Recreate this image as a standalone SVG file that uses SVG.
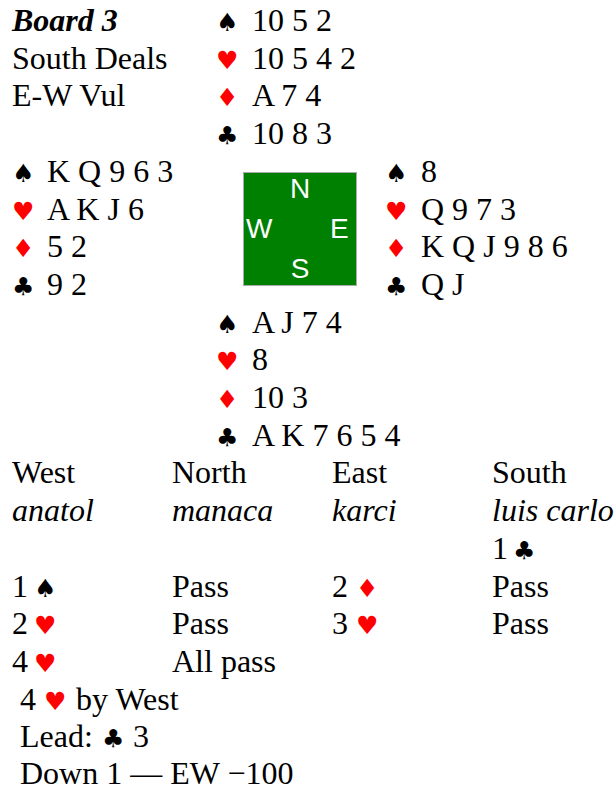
<svg xmlns="http://www.w3.org/2000/svg" width="616" height="790" viewBox="0 0 616 790">
<style>
.t{font-family:"Liberation Serif","Times New Roman",serif;font-size:32px;fill:#000}
.bi{font-weight:bold;font-style:italic}
.i{font-style:italic}
.s{font-family:"DejaVu Sans",sans-serif;font-size:25px}
.r{fill:#f00}
.k{fill:#000}
.c{font-family:"Liberation Sans",Arial,sans-serif;font-size:28px;fill:#fff}
</style>
<rect width="616" height="790" fill="#fff"/>
<g id="info">
<text class="t bi" x="12" y="31">Board 3</text>
<text class="t" x="12" y="68.7">South Deals</text>
<text class="t" x="12" y="106.4">E-W Vul</text>
</g>
<g id="north">
<text class="s k" x="216" y="31">♠</text><text class="t" x="252" y="31">10 5 2</text>
<text class="s r" x="216" y="68.7">♥</text><text class="t" x="252" y="68.7">10 5 4 2</text>
<text class="s r" x="216" y="106.4">♦</text><text class="t" x="252" y="106.4">A 7 4</text>
<text class="s k" x="216" y="144.1">♣</text><text class="t" x="252" y="144.1">10 8 3</text>
</g>
<g id="west">
<text class="s k" x="12" y="181.8">♠</text><text class="t" x="47" y="181.8">K Q 9 6 3</text>
<text class="s r" x="12" y="219.5">♥</text><text class="t" x="47" y="219.5">A K J 6</text>
<text class="s r" x="12" y="257.2">♦</text><text class="t" x="47" y="257.2">5 2</text>
<text class="s k" x="12" y="294.9">♣</text><text class="t" x="47" y="294.9">9 2</text>
</g>
<g id="compass">
<rect x="243.5" y="172.5" width="113" height="113" fill="#008000" stroke="#aaa" stroke-width="1"/>
<text class="c" x="300" y="198" text-anchor="middle">N</text>
<text class="c" x="246" y="238">W</text>
<text class="c" x="330" y="238">E</text>
<text class="c" x="300" y="278" text-anchor="middle">S</text>
</g>
<g id="east">
<text class="s k" x="385" y="181.8">♠</text><text class="t" x="421" y="181.8">8</text>
<text class="s r" x="385" y="219.5">♥</text><text class="t" x="421" y="219.5">Q 9 7 3</text>
<text class="s r" x="385" y="257.2">♦</text><text class="t" x="421" y="257.2">K Q J 9 8 6</text>
<text class="s k" x="385" y="294.9">♣</text><text class="t" x="421" y="294.9">Q J</text>
</g>
<g id="south">
<text class="s k" x="216" y="332.6">♠</text><text class="t" x="252" y="332.6">A J 7 4</text>
<text class="s r" x="216" y="370.3">♥</text><text class="t" x="252" y="370.3">8</text>
<text class="s r" x="216" y="408">♦</text><text class="t" x="252" y="408">10 3</text>
<text class="s k" x="216" y="445.7">♣</text><text class="t" x="252" y="445.7">A K 7 6 5 4</text>
</g>
<g id="auction">
<text class="t" x="12" y="483.4">West</text>
<text class="t" x="172" y="483.4">North</text>
<text class="t" x="332" y="483.4">East</text>
<text class="t" x="492" y="483.4">South</text>
<text class="t i" x="12" y="521.1">anatol</text>
<text class="t i" x="172" y="521.1">manaca</text>
<text class="t i" x="332" y="521.1">karci</text>
<text class="t i" x="492" y="521.1">luis carlo</text>
<text class="t" x="492" y="558.8">1</text><text class="s k" x="513" y="558.8">♣</text>
<text class="t" x="12" y="596.5">1</text><text class="s k" x="34" y="596.5">♠</text>
<text class="t" x="172" y="596.5">Pass</text>
<text class="t" x="332" y="596.5">2</text><text class="s r" x="356" y="596.5">♦</text>
<text class="t" x="492" y="596.5">Pass</text>
<text class="t" x="12" y="634.2">2</text><text class="s r" x="34" y="634.2">♥</text>
<text class="t" x="172" y="634.2">Pass</text>
<text class="t" x="332" y="634.2">3</text><text class="s r" x="356" y="634.2">♥</text>
<text class="t" x="492" y="634.2">Pass</text>
<text class="t" x="12" y="671.9">4</text><text class="s r" x="34" y="671.9">♥</text>
<text class="t" x="172" y="671.9">All pass</text>
</g>
<g id="result">
<text class="t" x="20" y="709.6">4</text><text class="s r" x="44" y="709.6">♥</text><text class="t" x="76" y="709.6">by West</text>
<text class="t" x="20" y="747.3">Lead:</text><text class="s k" x="102" y="747.3">♣</text><text class="t" x="133" y="747.3">3</text>
<text class="t" x="20" y="784">Down 1 — EW −100</text>
</g>
</svg>
